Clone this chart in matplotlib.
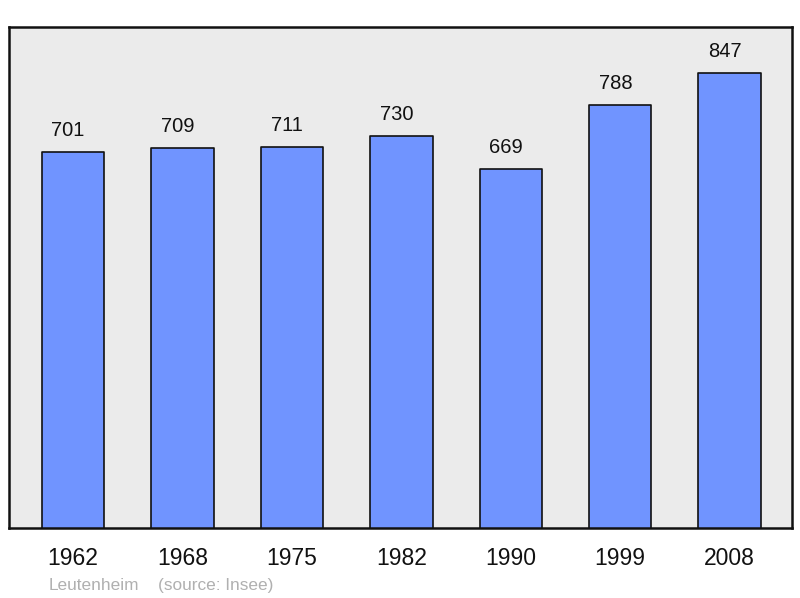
import matplotlib
matplotlib.use("Agg")
import matplotlib.pyplot as plt

years = ["1962", "1968", "1975", "1982", "1990", "1999", "2008"]
population = [701, 709, 711, 730, 669, 788, 847]
place = "Leutenheim"
source = "(source: Insee)"

plt.rcParams['font.family'] = ['Liberation Sans', 'DejaVu Sans']

fig = plt.figure(figsize=(8, 5.98), dpi=100)
ax = fig.add_axes([9/800, 70/598, 783/800, 501/598])
ax.set_facecolor('#ebebeb')

x = list(range(len(years)))
bars = ax.bar(x, population, width=0.57, color='#7094ff', edgecolor='#111111',
              linewidth=1.2, zorder=2)
for b in bars:
    b.set_joinstyle('round')

for xi, v in zip(x, population):
    ax.annotate(str(v), (xi, v), xytext=(-3.5, 8.5), textcoords='offset points',
                ha='center', va='bottom', fontsize=14.5, color='#111111')

ax.set_xlim(-0.585, 6.57)
ax.set_ylim(6, 932)
ax.set_yticks([])
ax.set_xticks(x)
ax.set_xticklabels(years, fontsize=16.5, color='#111111')
ax.tick_params(axis='x', length=0, pad=14)
for s in ax.spines.values():
    s.set_linewidth(1.8)
    s.set_color('#111111')

fig.text(49/800, 1 - 590/598, place, fontsize=12.4, color='#b0b0b0', ha='left', va='baseline')
fig.text(158/800, 1 - 590/598, source, fontsize=12.4, color='#b0b0b0', ha='left', va='baseline')

fig.savefig('out.png', dpi=100, facecolor='white')
